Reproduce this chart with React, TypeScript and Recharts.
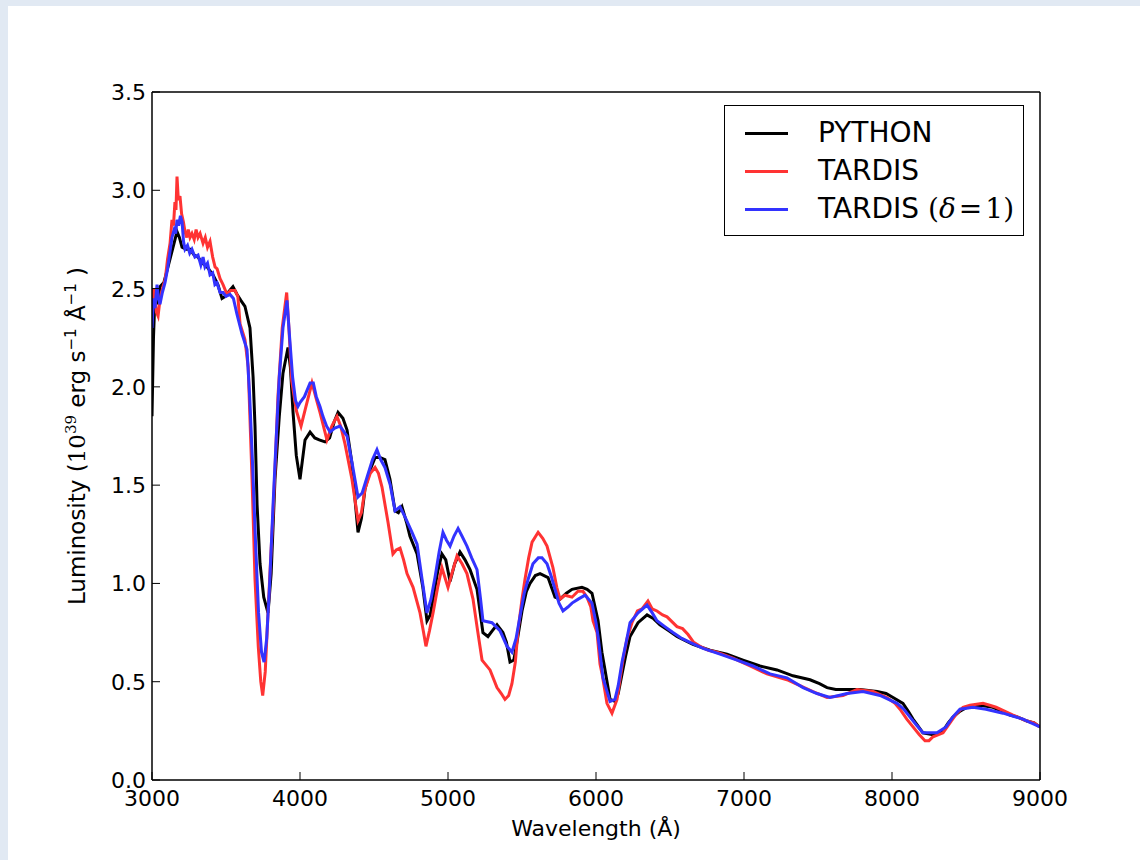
import React from "react";
import { LineChart, Line, XAxis, YAxis, Legend, Label } from "recharts";

// PYTHON (black)
const pythonWave = [3000, 3010, 3020, 3035, 3054, 3080, 3101, 3125, 3142, 3169, 3185, 3203, 3230, 3257, 3285, 3311, 3340, 3372, 3412, 3445, 3473, 3495, 3514, 3547, 3575, 3600, 3628, 3662, 3683, 3696, 3710, 3730, 3755, 3784, 3805, 3831, 3860, 3885, 3919, 3935, 3953, 3975, 4000, 4034, 4068, 4100, 4130, 4169, 4200, 4230, 4257, 4290, 4318, 4351, 4375, 4392, 4415, 4439, 4475, 4507, 4540, 4574, 4608, 4642, 4665, 4689, 4720, 4743, 4791, 4830, 4858, 4880, 4899, 4930, 4959, 4985, 5014, 5045, 5081, 5115, 5149, 5196, 5236, 5270, 5300, 5331, 5371, 5395, 5419, 5445, 5470, 5500, 5530, 5554, 5590, 5622, 5676, 5723, 5757, 5800, 5838, 5905, 5940, 5973, 6014, 6040, 6061, 6095, 6128, 6150, 6176, 6200, 6230, 6284, 6345, 6390, 6432, 6490, 6547, 6600, 6655, 6770, 6885, 6993, 7108, 7223, 7331, 7446, 7510, 7561, 7620, 7669, 7784, 7899, 7960, 8007, 8074, 8110, 8142, 8180, 8209, 8277, 8345, 8380, 8412, 8460, 8507, 8595, 8682, 8740, 8797, 8850, 8912, 8960, 9000];
const pythonLum = [1.85, 2.25, 2.46, 2.42, 2.51, 2.53, 2.59, 2.66, 2.71, 2.79, 2.76, 2.71, 2.70, 2.70, 2.67, 2.66, 2.63, 2.61, 2.57, 2.52, 2.45, 2.46, 2.48, 2.51, 2.47, 2.44, 2.41, 2.30, 2.05, 1.80, 1.40, 1.10, 0.93, 0.85, 1.05, 1.53, 1.85, 2.07, 2.20, 2.10, 1.87, 1.65, 1.53, 1.73, 1.77, 1.74, 1.73, 1.72, 1.74, 1.82, 1.87, 1.84, 1.78, 1.61, 1.40, 1.26, 1.33, 1.48, 1.58, 1.64, 1.64, 1.63, 1.53, 1.37, 1.36, 1.39, 1.31, 1.24, 1.15, 0.98, 0.81, 0.84, 0.92, 1.06, 1.15, 1.12, 1.01, 1.10, 1.16, 1.12, 1.07, 0.97, 0.75, 0.73, 0.76, 0.79, 0.75, 0.70, 0.60, 0.61, 0.72, 0.86, 0.96, 1.00, 1.04, 1.05, 1.03, 0.93, 0.92, 0.95, 0.97, 0.98, 0.97, 0.95, 0.81, 0.65, 0.56, 0.41, 0.40, 0.44, 0.54, 0.63, 0.73, 0.80, 0.84, 0.82, 0.79, 0.76, 0.73, 0.71, 0.69, 0.66, 0.64, 0.61, 0.58, 0.56, 0.53, 0.51, 0.49, 0.47, 0.46, 0.46, 0.46, 0.45, 0.44, 0.42, 0.39, 0.35, 0.31, 0.27, 0.24, 0.23, 0.25, 0.29, 0.32, 0.35, 0.37, 0.38, 0.37, 0.35, 0.33, 0.32, 0.30, 0.29, 0.27];

// TARDIS (red)
const tardisWave = [3000, 3010, 3020, 3030, 3041, 3055, 3074, 3090, 3105, 3122, 3135, 3145, 3155, 3162, 3169, 3178, 3189, 3200, 3212, 3223, 3235, 3245, 3257, 3270, 3285, 3298, 3311, 3325, 3345, 3360, 3375, 3392, 3410, 3426, 3440, 3460, 3480, 3507, 3530, 3561, 3580, 3595, 3628, 3650, 3676, 3696, 3718, 3735, 3748, 3765, 3784, 3800, 3818, 3835, 3851, 3880, 3910, 3925, 3944, 3975, 4007, 4040, 4081, 4113, 4135, 4182, 4215, 4250, 4275, 4304, 4351, 4392, 4415, 4439, 4475, 4507, 4530, 4554, 4595, 4628, 4650, 4676, 4700, 4723, 4764, 4811, 4835, 4851, 4875, 4899, 4930, 4959, 5000, 5030, 5061, 5095, 5128, 5169, 5200, 5230, 5284, 5331, 5360, 5385, 5410, 5432, 5455, 5473, 5500, 5520, 5545, 5568, 5609, 5640, 5669, 5709, 5735, 5757, 5790, 5838, 5878, 5912, 5939, 5965, 5980, 6007, 6027, 6041, 6074, 6108, 6142, 6160, 6182, 6210, 6243, 6280, 6311, 6351, 6380, 6412, 6450, 6480, 6547, 6585, 6622, 6660, 6703, 6760, 6818, 6926, 7041, 7155, 7290, 7378, 7466, 7561, 7669, 7764, 7872, 7966, 8020, 8054, 8100, 8142, 8185, 8223, 8250, 8277, 8345, 8400, 8439, 8480, 8527, 8615, 8660, 8703, 8760, 8818, 8912, 8960, 9000];
const tardisLum = [2.42, 2.50, 2.45, 2.38, 2.36, 2.45, 2.51, 2.55, 2.65, 2.73, 2.85, 2.82, 2.94, 2.90, 3.07, 2.95, 2.97, 2.88, 2.84, 2.79, 2.76, 2.80, 2.76, 2.78, 2.75, 2.80, 2.76, 2.78, 2.73, 2.76, 2.71, 2.74, 2.66, 2.61, 2.60, 2.55, 2.52, 2.47, 2.49, 2.49, 2.46, 2.32, 2.24, 2.10, 1.53, 1.02, 0.68, 0.50, 0.43, 0.55, 0.85, 1.10, 1.36, 1.65, 1.95, 2.30, 2.48, 2.30, 2.03, 1.88, 1.80, 1.90, 2.02, 1.93, 1.87, 1.73, 1.80, 1.85, 1.80, 1.71, 1.53, 1.32, 1.36, 1.48, 1.56, 1.59, 1.56, 1.49, 1.31, 1.15, 1.17, 1.18, 1.12, 1.05, 0.98, 0.85, 0.75, 0.68, 0.76, 0.85, 0.98, 1.08, 0.98, 1.06, 1.14, 1.10, 1.05, 0.92, 0.76, 0.61, 0.56, 0.47, 0.44, 0.41, 0.43, 0.49, 0.60, 0.76, 0.92, 1.02, 1.13, 1.21, 1.26, 1.23, 1.19, 1.08, 0.98, 0.92, 0.94, 0.93, 0.96, 0.96, 0.93, 0.88, 0.81, 0.75, 0.59, 0.54, 0.39, 0.34, 0.41, 0.50, 0.61, 0.72, 0.80, 0.86, 0.87, 0.91, 0.87, 0.86, 0.84, 0.83, 0.78, 0.77, 0.74, 0.70, 0.68, 0.66, 0.65, 0.62, 0.58, 0.54, 0.51, 0.48, 0.45, 0.42, 0.43, 0.46, 0.45, 0.42, 0.39, 0.36, 0.31, 0.27, 0.23, 0.20, 0.20, 0.22, 0.24, 0.30, 0.34, 0.37, 0.38, 0.39, 0.38, 0.37, 0.35, 0.33, 0.30, 0.29, 0.27];

// TARDIS (delta = 1) (blue)
const deltaWave = [3000, 3010, 3020, 3034, 3044, 3054, 3070, 3088, 3105, 3120, 3135, 3150, 3160, 3169, 3180, 3192, 3203, 3213, 3223, 3240, 3255, 3270, 3290, 3311, 3330, 3345, 3358, 3375, 3392, 3410, 3425, 3439, 3460, 3480, 3500, 3527, 3550, 3574, 3608, 3642, 3660, 3680, 3700, 3720, 3740, 3757, 3775, 3795, 3818, 3840, 3860, 3885, 3912, 3930, 3950, 3970, 3986, 4000, 4030, 4068, 4090, 4110, 4135, 4155, 4180, 4203, 4235, 4270, 4318, 4355, 4392, 4420, 4453, 4490, 4520, 4545, 4574, 4610, 4642, 4676, 4715, 4757, 4791, 4825, 4858, 4885, 4912, 4940, 4966, 4990, 5014, 5040, 5068, 5095, 5128, 5160, 5196, 5220, 5236, 5297, 5351, 5399, 5432, 5460, 5486, 5515, 5541, 5574, 5610, 5635, 5669, 5700, 5723, 5750, 5777, 5810, 5838, 5880, 5926, 5973, 6000, 6014, 6047, 6095, 6128, 6150, 6176, 6209, 6230, 6284, 6345, 6380, 6412, 6465, 6520, 6580, 6635, 6723, 6838, 6953, 7061, 7176, 7290, 7399, 7493, 7581, 7640, 7696, 7804, 7919, 8034, 8080, 8122, 8165, 8209, 8304, 8365, 8410, 8459, 8547, 8635, 8750, 8885, 8940, 9000];
const deltaLum = [2.30, 2.45, 2.40, 2.52, 2.45, 2.42, 2.48, 2.53, 2.60, 2.68, 2.76, 2.80, 2.78, 2.85, 2.82, 2.87, 2.84, 2.74, 2.70, 2.72, 2.68, 2.70, 2.66, 2.67, 2.62, 2.66, 2.61, 2.63, 2.57, 2.58, 2.52, 2.53, 2.48, 2.48, 2.46, 2.47, 2.45, 2.37, 2.27, 2.19, 1.95, 1.60, 1.20, 0.85, 0.65, 0.60, 0.72, 1.00, 1.40, 1.75, 2.05, 2.30, 2.44, 2.25, 2.05, 1.93, 1.90, 1.92, 1.95, 2.02, 2.02, 1.95, 1.90, 1.85, 1.80, 1.77, 1.79, 1.80, 1.75, 1.60, 1.44, 1.46, 1.54, 1.63, 1.68, 1.63, 1.59, 1.50, 1.37, 1.39, 1.33, 1.26, 1.20, 1.02, 0.85, 0.92, 1.03, 1.16, 1.26, 1.22, 1.19, 1.24, 1.28, 1.24, 1.19, 1.13, 1.07, 0.92, 0.81, 0.80, 0.76, 0.68, 0.65, 0.72, 0.83, 0.95, 1.02, 1.10, 1.13, 1.13, 1.10, 1.03, 0.97, 0.90, 0.86, 0.88, 0.90, 0.92, 0.94, 0.90, 0.80, 0.73, 0.52, 0.40, 0.41, 0.48, 0.60, 0.72, 0.80, 0.85, 0.89, 0.85, 0.81, 0.78, 0.75, 0.72, 0.70, 0.67, 0.64, 0.61, 0.58, 0.54, 0.52, 0.47, 0.44, 0.42, 0.43, 0.44, 0.45, 0.43, 0.39, 0.36, 0.32, 0.28, 0.24, 0.24, 0.27, 0.32, 0.36, 0.37, 0.36, 0.34, 0.31, 0.29, 0.27];

const xTicks = [3000, 4000, 5000, 6000, 7000, 8000, 9000];
const yTicks = [0, 0.5, 1, 1.5, 2, 2.5, 3, 3.5];

const toRows = (w: number[], l: number[]) => w.map((x, i) => ({ w: x, l: l[i] }));
const pythonData = toRows(pythonWave, pythonLum);
const tardisData = toRows(tardisWave, tardisLum);
const deltaData = toRows(deltaWave, deltaLum);

const FONT = "'DejaVu Sans', sans-serif";
const SERIF = "'DejaVu Serif', serif";
const TICK = 8;

const BottomTick = (p: any) => (
  <g>
    <line x1={p.x} x2={p.x} y1={p.y} y2={p.y - TICK} stroke="#000" strokeWidth={1} />
    <text x={p.x} y={p.y + 26} textAnchor="middle" fontFamily={FONT} fontSize={22} fill="#000">
      {p.payload.value}
    </text>
  </g>
);

const TopTick = (p: any) => (
  <line x1={p.x} x2={p.x} y1={p.y} y2={p.y + TICK} stroke="#000" strokeWidth={1} />
);

const LeftTick = (p: any) => (
  <g>
    <line x1={p.x} x2={p.x + TICK} y1={p.y} y2={p.y} stroke="#000" strokeWidth={1} />
    <text x={p.x - 6} y={p.y + 8} textAnchor="end" fontFamily={FONT} fontSize={22} fill="#000">
      {Number(p.payload.value).toFixed(1)}
    </text>
  </g>
);

const RightTick = (p: any) => (
  <line x1={p.x} x2={p.x - TICK} y1={p.y} y2={p.y} stroke="#000" strokeWidth={1} />
);

const series = [
  { name: "PYTHON", color: "#000000" },
  { name: "TARDIS", color: "#ff3333" },
  { name: "TARDIS (δ=1)", color: "#3333ff" },
];

const renderLegend = () => (
  <div
    style={{
      position: "relative",
      width: 298,
      height: 129,
      border: "1.5px solid #000",
      background: "#fff",
      fontFamily: FONT,
      fontSize: 28,
    }}
  >
    {series.map((s, i) => (
      <div key={s.name} style={{ position: "absolute", left: 0, top: 8 + i * 38, height: 38, width: 298 }}>
        <div style={{ position: "absolute", left: 20, top: 18, width: 43, height: 3, background: s.color }} />
        <div style={{ position: "absolute", left: 93, top: 0, lineHeight: "38px", whiteSpace: "nowrap" }}>
          {i === 2 ? (
            <span>
              TARDIS{" "}
              <span style={{ fontFamily: SERIF }}>
                (<i>δ</i>
                <span style={{ margin: "0 3px" }}>=</span>1)
              </span>
            </span>
          ) : (
            s.name
          )}
        </div>
      </div>
    ))}
  </div>
);

const YLabel = () => (
  <text
    x={85}
    y={436}
    transform="rotate(-90, 85, 436)"
    textAnchor="middle"
    fontFamily={FONT}
    fontSize={23}
    fill="#000"
  >
    <tspan>Luminosity (</tspan>
    <tspan fontFamily={SERIF}>10</tspan>
    <tspan dy={-9} fontSize={15} fontFamily={SERIF}>39</tspan>
    <tspan dy={9}> erg s</tspan>
    <tspan dy={-9} fontSize={15}>−1</tspan>
    <tspan dy={9}>  Å</tspan>
    <tspan dy={-9} fontSize={15}>−1</tspan>
    <tspan dy={9}> )</tspan>
  </text>
);

const XLabel = () => (
  <text x={596} y={836} textAnchor="middle" fontFamily={FONT} fontSize={22} fill="#000">
    Wavelength (Å)
  </text>
);

export default function App() {
  return (
    <div style={{ position: "absolute", left: 0, top: 0, width: 1140, height: 860, background: "#e1e9f3" }}>
      <div style={{ position: "absolute", left: 8, top: 6, width: 1132, height: 854, background: "#fff" }} />
      <div style={{ position: "absolute", left: 0, top: 0 }}>
        <LineChart width={1140} height={860} margin={{ top: 82, right: 90, bottom: 40, left: 92 }}>
          <XAxis
            dataKey="w"
            type="number"
            domain={[3000, 9000]}
            ticks={xTicks}
            interval={0}
            allowDataOverflow
            height={40}
            tickSize={0}
            tickMargin={0}
            tickLine={false}
            tick={<BottomTick />}
            axisLine={{ stroke: "#000", strokeWidth: 1.5 }}
          >
            <Label content={<XLabel />} />
          </XAxis>
          <XAxis
            xAxisId="top"
            orientation="top"
            type="number"
            domain={[3000, 9000]}
            ticks={xTicks}
            interval={0}
            height={10}
            tickSize={0}
            tickMargin={0}
            tickLine={false}
            tick={<TopTick />}
            axisLine={{ stroke: "#000", strokeWidth: 1.5 }}
          />
          <YAxis
            type="number"
            domain={[0, 3.5]}
            ticks={yTicks}
            interval={0}
            allowDataOverflow
            width={60}
            tickSize={0}
            tickMargin={0}
            tickLine={false}
            tick={<LeftTick />}
            axisLine={{ stroke: "#000", strokeWidth: 1.5 }}
          >
            <Label content={<YLabel />} />
          </YAxis>
          <YAxis
            yAxisId="right"
            orientation="right"
            type="number"
            domain={[0, 3.5]}
            ticks={yTicks}
            interval={0}
            width={10}
            tickSize={0}
            tickMargin={0}
            tickLine={false}
            tick={<RightTick />}
            axisLine={{ stroke: "#000", strokeWidth: 1.5 }}
          />
          <Legend
            layout="vertical"
            verticalAlign="middle"
            align="center"
            content={renderLegend}
            wrapperStyle={{ position: "absolute", left: 724, top: 105, width: 300, height: 132 }}
          />
          <Line data={pythonData} dataKey="l" name="PYTHON" type="linear" stroke="#000000" strokeWidth={3} dot={false} isAnimationActive={false} />
          <Line data={tardisData} dataKey="l" name="TARDIS" type="linear" stroke="#ff3333" strokeWidth={3} dot={false} isAnimationActive={false} />
          <Line data={deltaData} dataKey="l" name="TARDIS (δ=1)" type="linear" stroke="#3333ff" strokeWidth={3} dot={false} isAnimationActive={false} />
        </LineChart>
      </div>
    </div>
  );
}
